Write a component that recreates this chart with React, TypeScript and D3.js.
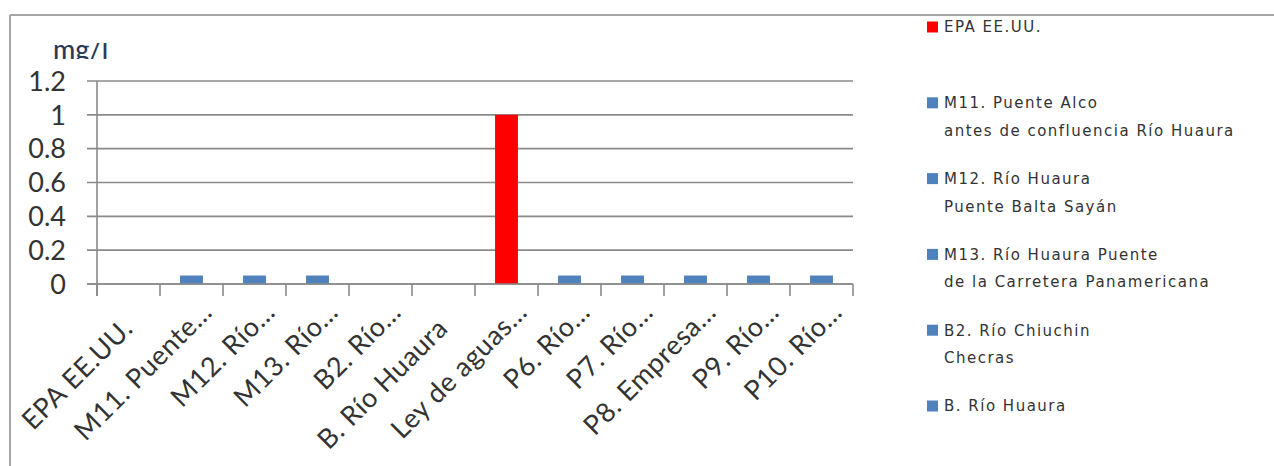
import React from "react";
import * as d3 from "d3";

// Sampling points along the river and the reference standard
const categories = [
  "EPA EE.UU.",
  "M11. Puente…",
  "M12. Río…",
  "M13. Río…",
  "B2. Río…",
  "B. Río Huaura",
  "Ley de aguas…",
  "P6. Río…",
  "P7. Río…",
  "P8. Empresa…",
  "P9. Río…",
  "P10. Río…",
];

// Concentration in mg/l (null = not measured)
const values: (number | null)[] = [null, 0.05, 0.05, 0.05, null, null, 1, 0.05, 0.05, 0.05, 0.05, 0.05];

// The water-law limit is drawn in red, stations in blue
const standardIndex = 6;

const yTicks = [0, 0.2, 0.4, 0.6, 0.8, 1, 1.2];
const yTickLabels = ["0", "0.2", "0.4", "0.6", "0.8", "1", "1.2"];

const legendLabels: string[][] = [
  ["EPA EE.UU."],
  ["M11. Puente Alco", "antes de confluencia Río Huaura"],
  ["M12. Río Huaura", "Puente Balta Sayán"],
  ["M13. Río Huaura Puente", "de la Carretera Panamericana"],
  ["B2. Río Chiuchin", "Checras"],
  ["B. Río Huaura"],
];
const legendIsStandard = [true, false, false, false, false, false];

const RED = "#FF0000";
const BLUE = "#4F81BD";
const GRID = "#8a8a8a";
const FRAME = "#a6a6a6";
const TEXT = "#333333";

const W = 1274;
const H = 466;

const plot = { left: 97, right: 853, top: 81, bottom: 284 };

export default function App() {
  const x = d3
    .scaleBand<string>()
    .domain(categories)
    .range([plot.left, plot.right])
    .padding(0);
  const step = x.step();
  const barW = step / 2.75; // gap width 175%

  const y = d3.scaleLinear().domain([0, 1.2]).range([plot.bottom, plot.top]);

  const boundaries = d3.range(categories.length + 1).map((i) => plot.left + i * step);

  const labelFont = "Lato, 'Open Sans', sans-serif";
  const d = Math.SQRT1_2;

  return (
    <div style={{ position: "absolute", left: 0, top: 0 }}>
      <svg width={W} height={H} viewBox={`0 0 ${W} ${H}`} style={{ display: "block", background: "#fff" }}>
        <defs>
          <clipPath id="unitClip">
            <rect x={40} y={43} width={120} height={16} />
          </clipPath>
        </defs>

        {/* chart frame */}
        <line x1={10} x2={W} y1={15} y2={15} stroke={FRAME} strokeWidth={2} />
        <line x1={10} x2={10} y1={15} y2={H} stroke={FRAME} strokeWidth={2} />

        {/* unit label */}
        <text
          x={53}
          y={59}
          fontFamily={labelFont}
          fontSize={27}
          fontWeight={500}
          fill="#2a3a55"
          clipPath="url(#unitClip)"
        >
          mg/l
        </text>

        {/* horizontal gridlines with outward ticks */}
        {yTicks.map((t, i) => (
          <g key={`g${i}`}>
            <line x1={plot.left - 10} x2={plot.right} y1={y(t)} y2={y(t)} stroke={GRID} strokeWidth={1.6} />
            <text
              x={66}
              y={y(t)}
              dy="0.36em"
              textAnchor="end"
              fontFamily={labelFont}
              fontSize={27}
              fill={TEXT}
            >
              {yTickLabels[i]}
            </text>
          </g>
        ))}

        {/* vertical axis */}
        <line x1={plot.left} x2={plot.left} y1={plot.top} y2={plot.bottom + 12} stroke={GRID} strokeWidth={1.6} />

        {/* category ticks */}
        {boundaries.map((bx, i) => (
          <line key={`t${i}`} x1={bx} x2={bx} y1={plot.bottom} y2={plot.bottom + 12} stroke={GRID} strokeWidth={1.6} />
        ))}

        {/* bars */}
        {categories.map((c, i) => {
          const v = values[i];
          if (v == null) return null;
          const cx = (x(c) as number) + step / 2;
          return (
            <rect
              key={`b${i}`}
              x={cx - barW / 2}
              y={y(v)}
              width={barW}
              height={y(0) - y(v)}
              fill={i === standardIndex ? RED : BLUE}
            />
          );
        })}

        {/* baseline over bars */}
        <line x1={plot.left - 10} x2={plot.right} y1={y(0)} y2={y(0)} stroke={GRID} strokeWidth={1.6} />

        {/* rotated category labels */}
        {categories.map((c, i) => {
          const cx = (x(c) as number) + step / 2;
          const shift = c.endsWith("…") ? 23 : 0;
          const ax = cx + 6 + shift * d;
          const ay = 330 - shift * d;
          return (
            <text
              key={`l${i}`}
              x={ax}
              y={ay}
              textAnchor="end"
              transform={`rotate(-45 ${ax} ${ay})`}
              fontFamily={labelFont}
              fontSize={27}
              letterSpacing={0.6}
              fill={TEXT}
            >
              {c}
            </text>
          );
        })}

        {/* legend */}
        {legendLabels.map((lines, i) => {
          const cy = 27 + i * 75.8;
          return (
            <g key={`lg${i}`}>
              <rect x={927} y={cy - 5.5} width={11} height={11} fill={legendIsStandard[i] ? RED : BLUE} />
              {lines.map((ln, j) => (
                <text
                  key={j}
                  x={944}
                  y={cy + j * 27.5}
                  dy="0.36em"
                  fontFamily="'DejaVu Sans', sans-serif"
                  fontSize={15}
                  letterSpacing={1.5}
                  fill="#333"
                >
                  {ln}
                </text>
              ))}
            </g>
          );
        })}
      </svg>
    </div>
  );
}
